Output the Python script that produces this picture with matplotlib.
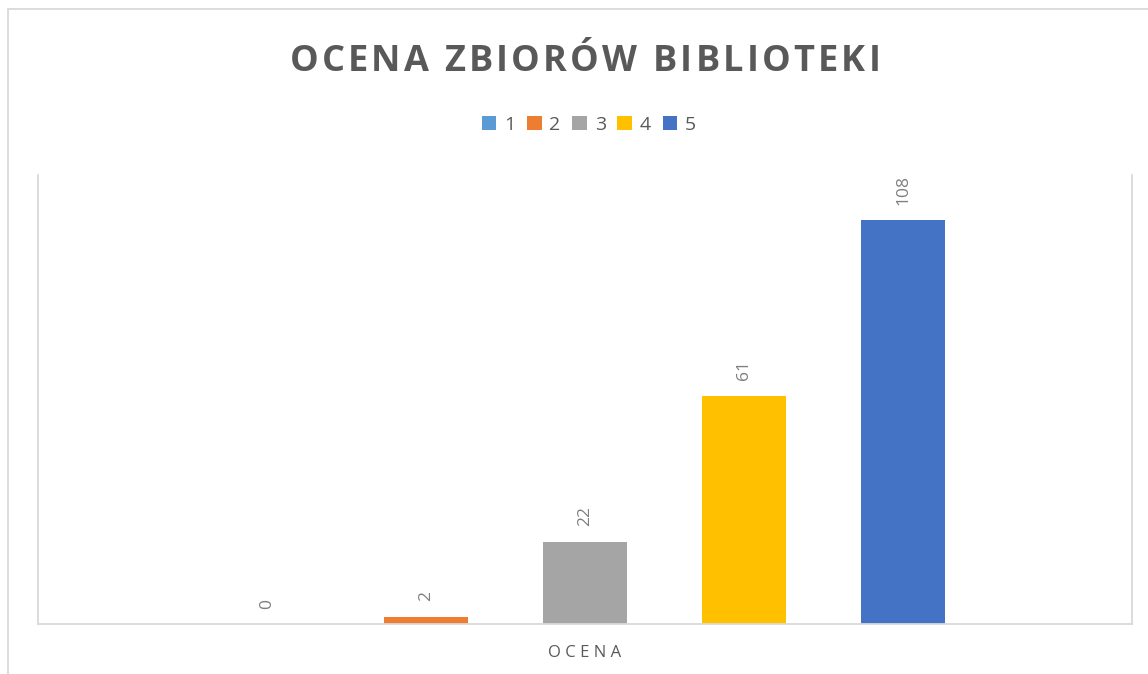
import matplotlib
matplotlib.use('Agg')
import matplotlib.pyplot as plt
from matplotlib.patches import Rectangle

# dane z wykresu
oceny = ['1', '2', '3', '4', '5']
liczba = [0, 2, 22, 61, 108]
kolory = ['#5B9BD5', '#ED7D31', '#A5A5A5', '#FFC000', '#4472C4']
tytul = 'OCENA ZBIORÓW BIBLIOTEKI'

plt.rcParams['font.family'] = ['Open Sans', 'DejaVu Sans']

fig = plt.figure(figsize=(11.48, 6.74), dpi=100)
W, H = 1148, 674

# ramka wykresu (obcieta z prawej i z dolu)
fig.add_artist(Rectangle((8 / W, -0.1), 1.2, 1 - 9 / H + 0.1, transform=fig.transFigure,
                         fill=False, edgecolor='#d9d9d9', linewidth=1.3))

ax = fig.add_axes([38 / W, (674 - 624) / H, 1094 / W, 449 / H])
x = list(range(len(oceny)))
bars = ax.bar(x, liczba, width=0.53, color=kolory, label=oceny)

for i, v in enumerate(liczba):
    ax.annotate(str(v), (x[i], v), xytext=(0, 11), textcoords='offset points',
                rotation=90, ha='center', va='bottom', fontsize=12.5, color='#7f7f7f')

ax.set_xlim(-1.44, 5.44)
ax.set_ylim(0, 120)
ax.set_xticks([])
ax.set_yticks([])
for s in ['left', 'right', 'bottom']:
    ax.spines[s].set_color('#d9d9d9')
    ax.spines[s].set_linewidth(1.3)
ax.spines['top'].set_visible(False)

# tytul z rozstrzelonymi literami - kazda litera osobno
renderer = fig.canvas.get_renderer()
odstep = 3.2  # px
szer = []
for ch in tytul:
    t = fig.text(0, 0, ch.replace(' ', '\u00a0'), fontsize=26, fontweight='bold')
    szer.append(t.get_window_extent(renderer).width)
    t.remove()
calosc = sum(szer) + odstep * (len(tytul) - 1)
px = 585 - calosc / 2
for ch, w in zip(tytul, szer):
    fig.text(px / W, 1 - 71 / H, ch, ha='left', va='baseline',
             fontsize=26, fontweight='bold', color='#595959')
    px += w + odstep

fig.text(585 / W, 1 - 653 / H, 'O C E N A', ha='center', va='center',
         fontsize=12, color='#595959')

leg = fig.legend(handles=bars, labels=oceny, loc='center', bbox_to_anchor=(589 / W, 1 - 125 / H),
                 ncol=5, frameon=False, fontsize=14, handlelength=0.75, handleheight=0.75,
                 handletextpad=0.4, columnspacing=0.6, labelcolor='#595959')

plt.savefig('out.png', dpi=100)
